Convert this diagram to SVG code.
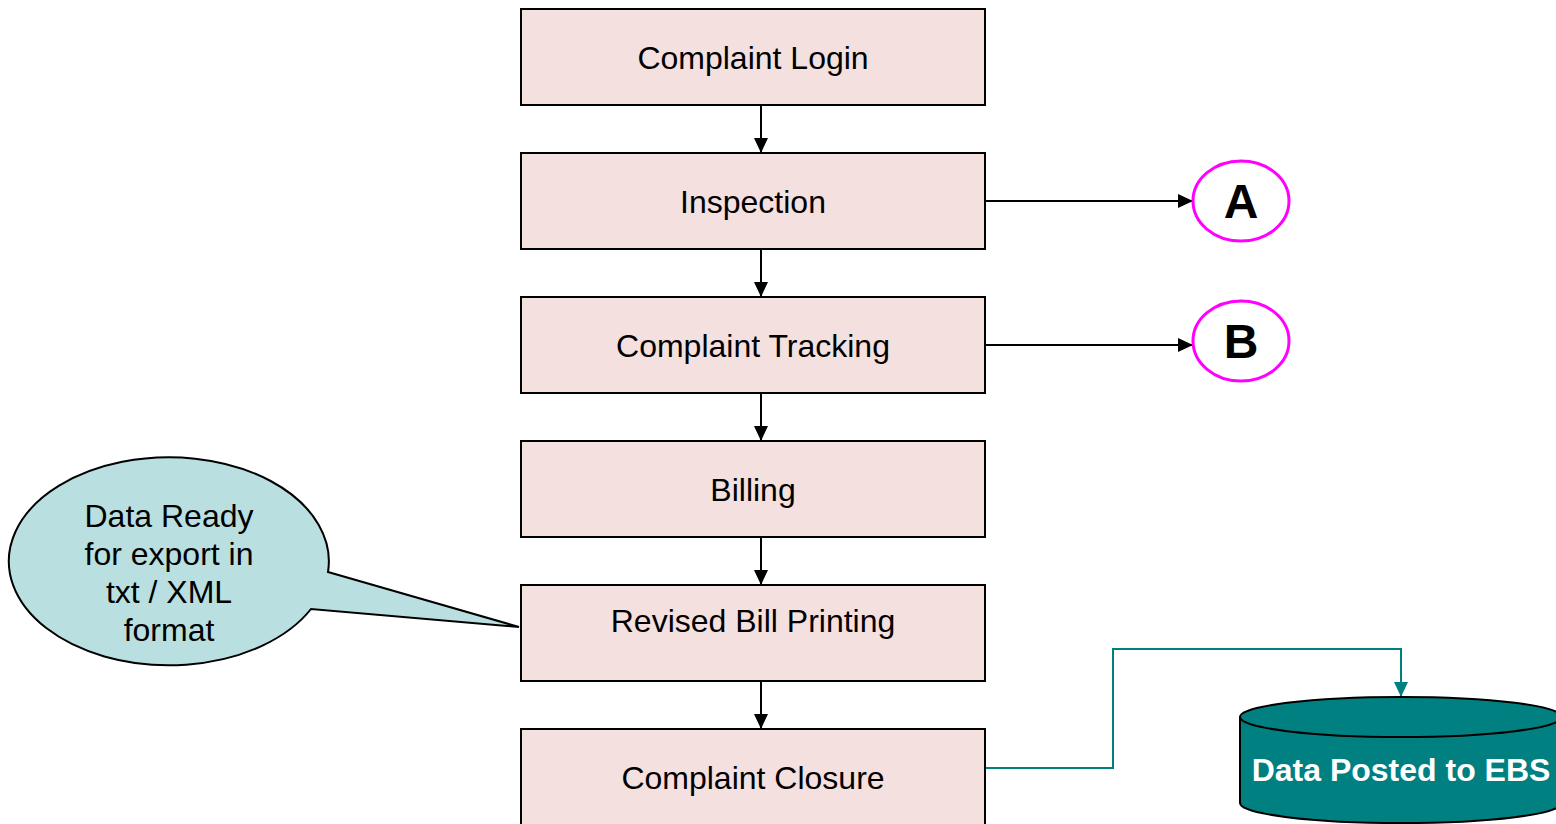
<svg xmlns="http://www.w3.org/2000/svg" width="1556" height="824" viewBox="0 0 1556 824">
<style>
.box{fill:#F4E0DF;stroke:#000;stroke-width:2}
.t{font-family:"Liberation Sans",Arial,sans-serif;font-size:32px;fill:#000;text-anchor:middle}
.conn{stroke:#000;stroke-width:2;fill:none}
.circ{fill:#fff;stroke:#FF00FF;stroke-width:3}
.big{font-family:"Liberation Sans",Arial,sans-serif;font-size:48px;font-weight:bold;text-anchor:middle}
</style>
<defs>
<marker id="ah" markerUnits="userSpaceOnUse" markerWidth="16" markerHeight="14" refX="15" refY="7" orient="auto"><path d="M0,0 L15,7 L0,14 Z" fill="#000"/></marker>
<marker id="aht" markerUnits="userSpaceOnUse" markerWidth="16" markerHeight="14" refX="15" refY="7" orient="auto"><path d="M0,0 L15,7 L0,14 Z" fill="#008080"/></marker>
</defs>
<rect width="1556" height="824" fill="#fff"/>
<g id="callout">
<path d="M328,572 L519,627 L311,609 A160,104 0 1 1 328,572 Z" fill="#B9DFE1" stroke="#000" stroke-width="2"/>
<text class="t" x="169" y="527">Data Ready</text>
<text class="t" x="169" y="565">for export in</text>
<text class="t" x="169" y="603">txt / XML</text>
<text class="t" x="169" y="641">format</text>
</g>
<g id="connectors">
<line class="conn" x1="761" y1="105" x2="761" y2="153" marker-end="url(#ah)"/>
<line class="conn" x1="761" y1="249" x2="761" y2="297" marker-end="url(#ah)"/>
<line class="conn" x1="761" y1="393" x2="761" y2="441" marker-end="url(#ah)"/>
<line class="conn" x1="761" y1="537" x2="761" y2="585" marker-end="url(#ah)"/>
<line class="conn" x1="761" y1="681" x2="761" y2="729" marker-end="url(#ah)"/>
<line class="conn" x1="985" y1="201" x2="1193" y2="201" marker-end="url(#ah)"/>
<line class="conn" x1="985" y1="345" x2="1193" y2="345" marker-end="url(#ah)"/>
<polyline points="985,768 1113,768 1113,649 1401,649 1401,697" fill="none" stroke="#008080" stroke-width="2" marker-end="url(#aht)"/>
</g>
<g id="n1"><rect class="box" x="521" y="9" width="464" height="96"/><text class="t" x="753" y="69">Complaint Login</text></g>
<g id="n2"><rect class="box" x="521" y="153" width="464" height="96"/><text class="t" x="753" y="213">Inspection</text></g>
<g id="n3"><rect class="box" x="521" y="297" width="464" height="96"/><text class="t" x="753" y="357">Complaint Tracking</text></g>
<g id="n4"><rect class="box" x="521" y="441" width="464" height="96"/><text class="t" x="753" y="501">Billing</text></g>
<g id="n5"><rect class="box" x="521" y="585" width="464" height="96"/><text class="t" x="753" y="632">Revised Bill Printing</text></g>
<g id="n6"><rect class="box" x="521" y="729" width="464" height="100"/><text class="t" x="753" y="789">Complaint Closure</text></g>
<g id="A"><ellipse class="circ" cx="1241" cy="201" rx="48" ry="40"/><text class="big" x="1241" y="218">A</text></g>
<g id="B"><ellipse class="circ" cx="1241" cy="341" rx="48" ry="40"/><text class="big" x="1241" y="358">B</text></g>
<g id="ebs">
<path d="M1240,717 L1240,803 A161,20 0 0 0 1562,803 L1562,717" fill="#008080" stroke="#000" stroke-width="2"/>
<ellipse cx="1401" cy="717" rx="161" ry="20" fill="#008080" stroke="#000" stroke-width="2"/>
<text x="1401" y="781" font-family="Liberation Sans,Arial,sans-serif" font-size="32" font-weight="bold" fill="#fff" text-anchor="middle">Data Posted to EBS</text>
</g>
</svg>
